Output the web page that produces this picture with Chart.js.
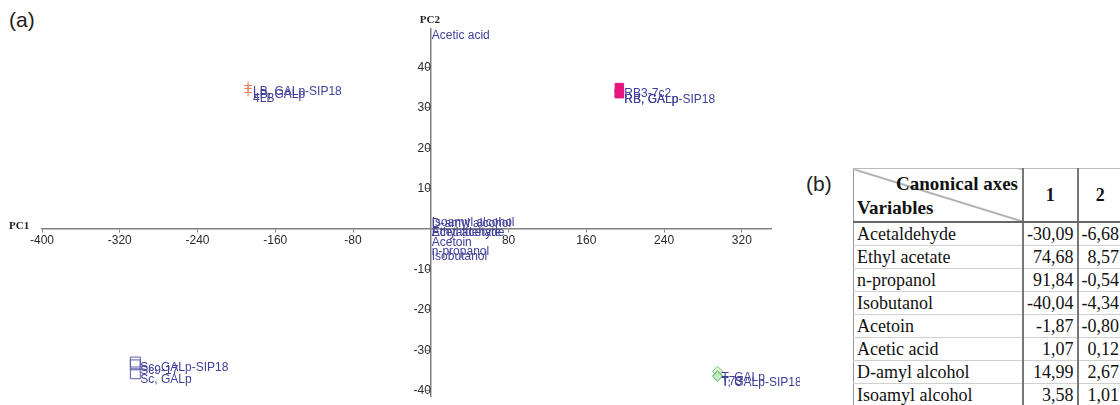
<!DOCTYPE html>
<html>
<head>
<meta charset="utf-8">
<script src="https://cdn.jsdelivr.net/npm/chart.js@4"></script>
<style>
  html, body { margin: 0; padding: 0; background: #fff; width: 1120px; height: 405px; overflow: hidden; }
  #plot { position: absolute; left: 0; top: 0; }
  .tag { position: absolute; font-family: Arial, "Liberation Sans", sans-serif; font-size: 21px; color: #222; }
  #tbl { position: absolute; left: 853px; top: 168px; border-collapse: collapse; font-family: "Liberation Serif", serif; font-size: 18px; color: #111; }
  #tbl td, #tbl th { padding: 0 3px; height: 22px; border-bottom: 1px solid #d0d0d0; white-space: nowrap; }
  #tbl th { font-weight: bold; height: 52px; border-bottom: 2px solid #666; border-top: 1px solid #bbb; }
  #tbl .diag { width: 162px; min-width: 162px; position: relative; border-left: 1px solid #999;
    background: linear-gradient(to top right, transparent calc(50% - 1px), #666 50%, transparent calc(50% + 1px)); }
  #tbl .diag .ca { position: absolute; right: 4px; top: 4px; font-size: 19px; }
  #tbl .diag .vv { position: absolute; left: 3px; bottom: 2px; font-size: 19px; }
  #tbl .name { border-left: 1px solid #999; text-align: left; }
  #tbl .num { text-align: right; width: 48px; border-left: 2px solid #777; }
  #tbl th.num { text-align: center; }
</style>
</head>
<body>
<div class="tag" style="left:9px; top:8px;">(a)</div>
<div class="tag" style="left:806px; top:172px;">(b)</div>
<canvas id="plot" width="800" height="405"></canvas>
<table id="tbl">
  <thead>
    <tr><th class="diag"><span class="ca">Canonical axes</span><span class="vv">Variables</span></th><th class="num">1</th><th class="num">2</th></tr>
  </thead>
  <tbody></tbody>
</table>
<script>
// axis ticks
const xTicks = [-400, -320, -240, -160, -80, 80, 160, 240, 320];
const yTicks = [-40, -30, -20, -10, 10, 20, 30, 40];

// sample groups (PC1, PC2)
const lbNames = ['LB, GALp-SIP18', 'LB, GALp', '4LB'];
const lbX = [-188, -188, -188];
const lbY = [35.5, 34.8, 33.8];

const rbNames = ['RB3-7c2', 'RB, GALp', 'RB, GALp-SIP18'];
const rbX = [194, 194, 194];
const rbY = [35.0, 33.6, 33.5];

const scNames = ['Sc, GALp-SIP18', 'Sc9-17', 'Sc, GALp'];
const scX = [-304, -304, -304];
const scY = [-32.9, -33.6, -35.8];

const tNames = ['T, GALp', 'T73', 'T, GALp-SIP18'];
const tX = [295, 295, 295];
const tY = [-35.2, -36.2, -36.5];

// variables shown near the origin
const varNames = ['Acetic acid', 'Isoamyl alcohol', 'D-amyl alcohol', 'Ethyl acetate', 'Acetaldehyde', 'Acetoin', 'n-propanol', 'Isobutanol'];
const varX = [1, 1, 1, 1, 1, 1, 1, 1];
const varY = [49.4, 3.1, 2.8, 0.6, 0.5, -2.0, -4.0, -5.4];

// canonical axes table
const tableVars = ['Acetaldehyde', 'Ethyl acetate', 'n-propanol', 'Isobutanol', 'Acetoin', 'Acetic acid', 'D-amyl alcohol', 'Isoamyl alcohol'];
const axis1 = [-30.09, 74.68, 91.84, -40.04, -1.87, 1.07, 14.99, 3.58];
const axis2 = [-6.68, 8.57, -0.54, -4.34, -0.80, 0.12, 2.67, 1.01];

const labelColor = '#40409a';
const axisColor = '#808080';

const fmt = v => v.toFixed(2).replace('.', ',');
const body = document.querySelector('#tbl tbody');
tableVars.forEach((name, i) => {
  const tr = document.createElement('tr');
  tr.innerHTML = '<td class="name">' + name + '</td><td class="num">' + fmt(axis1[i]) +
    '</td><td class="num">' + fmt(axis2[i]) + '</td>';
  body.appendChild(tr);
});

const pts = (xs, ys) => xs.map((x, i) => ({ x: x, y: ys[i] }));

// writes each point's name to the right of it
const pointNames = {
  id: 'pointNames',
  afterDatasetsDraw(chart) {
    const ctx = chart.ctx;
    ctx.save();
    ctx.font = '12px Arial, "Liberation Sans", sans-serif';
    ctx.fillStyle = labelColor;
    ctx.textBaseline = 'middle';
    chart.data.datasets.forEach((ds, i) => {
      chart.getDatasetMeta(i).data.forEach((el, j) => {
        ctx.fillText(ds.names[j], el.x + ds.nameDx, el.y + 6);
      });
    });
    ctx.restore();
  }
};

// PC1 / PC2 captions at the ends of the axes
const axisCaptions = {
  id: 'axisCaptions',
  afterDraw(chart) {
    const { ctx, scales: { x, y }, chartArea } = chart;
    ctx.save();
    ctx.font = 'bold 11px "Liberation Serif", serif';
    ctx.fillStyle = '#222';
    ctx.textBaseline = 'middle';
    ctx.textAlign = 'left';
    ctx.fillText('PC1', 9, y.getPixelForValue(0) - 3);
    ctx.textAlign = 'center';
    ctx.fillText('PC2', x.getPixelForValue(0) - 1, chartArea.top - 9);
    ctx.restore();
  }
};

new Chart(document.getElementById('plot'), {
  type: 'scatter',
  data: {
    datasets: [
      { names: lbNames, nameDx: 5, data: pts(lbX, lbY), pointStyle: 'cross', pointRadius: 4,
        borderColor: '#e6805c', backgroundColor: '#e6805c', borderWidth: 1 },
      { names: rbNames, nameDx: 5, data: pts(rbX, rbY), pointStyle: 'rect', pointRadius: 6,
        borderColor: '#e3157f', backgroundColor: '#e3157f', borderWidth: 1 },
      { names: scNames, nameDx: 5, data: pts(scX, scY), pointStyle: 'rect', pointRadius: 7,
        borderColor: '#5a5aaa', backgroundColor: 'rgba(0,0,0,0)', borderWidth: 1 },
      { names: tNames, nameDx: 4, data: pts(tX, tY), pointStyle: 'rectRot', pointRadius: 5,
        borderColor: '#7cc47c', backgroundColor: 'rgba(190,235,190,0.5)', borderWidth: 1 },
      { names: varNames, nameDx: 0, data: pts(varX, varY), pointRadius: 0 }
    ]
  },
  options: {
    responsive: false,
    animation: false,
    layout: { padding: { left: 42, right: 29, top: 29, bottom: 7 } },
    plugins: { legend: { display: false }, tooltip: { enabled: false } },
    scales: {
      x: {
        type: 'linear', min: -400, max: 350, position: { y: 0 },
        afterBuildTicks: s => { s.ticks = xTicks.map(v => ({ value: v })); },
        grid: { display: true, drawOnChartArea: false, drawTicks: true, tickLength: 3, color: axisColor },
        border: { display: true, color: axisColor, width: 1.5 },
        ticks: { color: '#2a2a2a', font: { family: 'Arial, "Liberation Sans", sans-serif', size: 12 }, padding: 1, maxRotation: 0, autoSkip: false }
      },
      y: {
        type: 'linear', min: -41.5, max: 49.5, position: { x: 0 },
        afterBuildTicks: s => { s.ticks = yTicks.map(v => ({ value: v })); },
        grid: { display: true, drawOnChartArea: false, drawTicks: true, tickLength: 4, color: axisColor },
        border: { display: true, color: axisColor, width: 1.5 },
        ticks: { color: '#2a2a2a', font: { family: 'Arial, "Liberation Sans", sans-serif', size: 12 }, padding: 1, autoSkip: false }
      }
    }
  },
  plugins: [pointNames, axisCaptions]
});
</script>
</body>
</html>
